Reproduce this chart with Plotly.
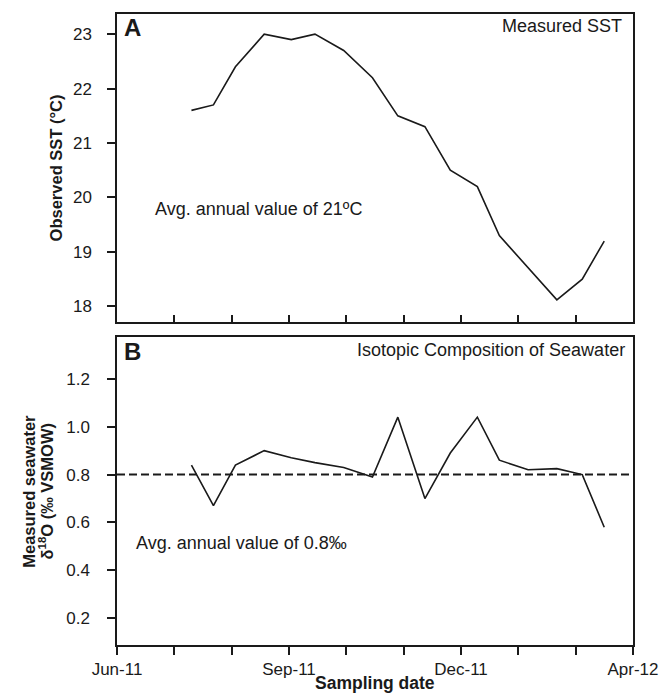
import pandas as pd
import plotly.graph_objects as go

# ---- data ----
sample_dates = ["2011-07-15", "2011-07-28", "2011-08-10", "2011-08-27", "2011-09-12",
                "2011-09-26", "2011-10-13", "2011-10-30", "2011-11-14", "2011-11-30",
                "2011-12-15", "2011-12-31", "2012-01-13", "2012-01-30", "2012-02-16",
                "2012-03-02", "2012-03-15"]
sst = [21.6, 21.7, 22.4, 23.0, 22.9, 23.0, 22.7, 22.2, 21.5, 21.3,
       20.5, 20.2, 19.3, 18.7, 18.12, 18.5, 19.2]
d18o = [0.84, 0.67, 0.84, 0.90, 0.87, 0.85, 0.83, 0.79, 1.04, 0.70,
        0.89, 1.04, 0.86, 0.82, 0.825, 0.80, 0.58]
avg_d18o = 0.8
x_tick_labels = ["Jun-11", "", "", "Sep-11", "", "", "Dec-11", "", "", "Apr-12"]
sst_ticks = [18, 19, 20, 21, 22, 23]
d18o_ticks = [0.2, 0.4, 0.6, 0.8, 1.0, 1.2]

# axis frame: Jun-11 .. Apr-12 split into 9 equal intervals
start = pd.Timestamp("2011-06-01")
end = pd.Timestamp("2012-04-01")
n_int = len(x_tick_labels) - 1
all_ticks = [(start + (end - start) * k / n_int).strftime("%Y-%m-%d %H:%M:%S")
             for k in range(n_int + 1)]
lab_ticks = [t for t, l in zip(all_ticks, x_tick_labels) if l]
lab_text = [l for l in x_tick_labels if l]
x_range = [start.strftime("%Y-%m-%d"), end.strftime("%Y-%m-%d")]

FONT = "Liberation Sans, Arial, Helvetica, sans-serif"
INK = "#1a1a1a"

fig = go.Figure()
fig.add_trace(go.Scatter(x=sample_dates, y=sst, mode="lines",
                         line=dict(color=INK, width=1.6), xaxis="x", yaxis="y",
                         showlegend=False))
fig.add_trace(go.Scatter(x=sample_dates, y=d18o, mode="lines",
                         line=dict(color=INK, width=1.6), xaxis="x2", yaxis="y2",
                         showlegend=False))

common_x = dict(type="date", range=x_range, showgrid=False, zeroline=False,
                showline=True, linecolor=INK, linewidth=1.5, mirror=True,
                tickcolor=INK, tickwidth=1.5,
                tickfont=dict(family=FONT, size=17, color=INK))

fig.update_layout(
    width=671, height=695,
    margin=dict(l=117, r=29, t=13, b=50),
    paper_bgcolor="white", plot_bgcolor="white",
    xaxis=dict(common_x, anchor="y", tickmode="array", tickvals=all_ticks,
               ticks="inside", ticklen=7, showticklabels=False),
    xaxis2=dict(common_x, anchor="y2", tickmode="array", tickvals=lab_ticks,
                ticktext=lab_text, ticks="outside", ticklen=8,
                minor=dict(tickmode="array", tickvals=all_ticks, ticks="outside",
                           ticklen=8, tickwidth=1.5, tickcolor=INK, showgrid=False)),
    yaxis=dict(domain=[0.5116, 1.0], range=[17.71, 23.37], tickmode="array",
               tickvals=sst_ticks, showgrid=False, zeroline=False, showline=True,
               linecolor=INK, linewidth=1.5, mirror=True, ticks="outside",
               ticklen=8, tickwidth=1.5, tickcolor=INK, ticklabelstandoff=12,
               tickfont=dict(family=FONT, size=17, color=INK)),
    yaxis2=dict(domain=[0.0, 0.4878], range=[0.088, 1.374], tickmode="array",
                tickvals=d18o_ticks, tickformat=".1f", showgrid=False, zeroline=False,
                showline=True, linecolor=INK, linewidth=1.5, mirror=True,
                ticks="outside", ticklen=8, tickwidth=1.5, tickcolor=INK,
                ticklabelstandoff=14, tickfont=dict(family=FONT, size=17, color=INK)),
    font=dict(family=FONT, color=INK),
)

fig.add_shape(type="line", xref="x2 domain", yref="y2", x0=0, x1=1,
              y0=avg_d18o, y1=avg_d18o,
              line=dict(color=INK, width=2, dash="8px,4px"))

ann = [
    dict(text="<b>A</b>", xref="x domain", yref="y domain", x=0.009, y=0.9565,
         xanchor="left", yanchor="middle", font=dict(size=24)),
    dict(text="Measured SST", xref="x domain", yref="y domain", x=0.983, y=0.962,
         xanchor="right", yanchor="middle", font=dict(size=18)),
    dict(text="Avg. annual value of 21ºC", xref="x domain", yref="y", x=0.07, y=19.79,
         xanchor="left", yanchor="middle", font=dict(size=18)),
    dict(text="<b>B</b>", xref="x2 domain", yref="y2 domain", x=0.010, y=0.954,
         xanchor="left", yanchor="middle", font=dict(size=24)),
    dict(text="Isotopic Composition of Seawater", xref="x2 domain", yref="y2 domain",
         x=0.989, y=0.960, xanchor="right", yanchor="middle", font=dict(size=18)),
    dict(text="Avg. annual value of 0.8‰", xref="x2 domain", yref="y2", x=0.0326,
         y=0.513, xanchor="left", yanchor="middle", font=dict(size=18)),
    dict(text="<b>Observed SST (°C)</b>", xref="paper", yref="paper", x=-0.118,
         y=0.7555, xanchor="center", yanchor="middle", textangle=-90,
         font=dict(size=16.5)),
    dict(text="<b>Measured seawater</b>", xref="paper", yref="paper", x=-0.1695,
         y=0.2437, xanchor="center", yanchor="middle", textangle=-90,
         font=dict(size=16.5)),
    dict(text="<b>δ<sup>18</sup>O (‰ VSMOW)</b>", xref="paper", yref="paper",
         x=-0.137, y=0.2437, xanchor="center", yanchor="middle", textangle=-90,
         font=dict(size=16.5)),
    dict(text="<b>Sampling date</b>", xref="paper", yref="paper", x=0.5, y=-0.061,
         xanchor="center", yanchor="middle", font=dict(size=17.5)),
]
for a in ann:
    a.setdefault("showarrow", False)
    a["font"] = dict(a["font"], family=FONT, color=INK)
    fig.add_annotation(**a)

fig.write_html("out.html", config={"displayModeBar": False},
               post_script="document.body.style.margin='0';"
                           "document.body.style.overflow='hidden';")
